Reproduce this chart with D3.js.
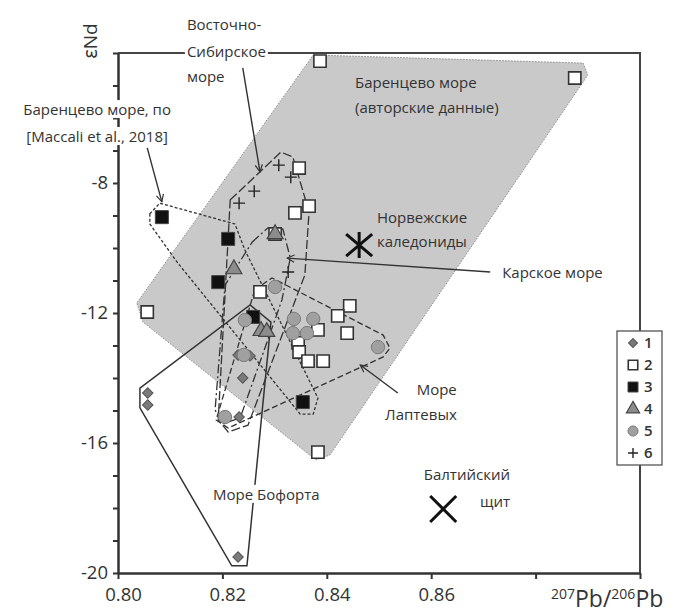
<!DOCTYPE html>
<html>
<head>
<meta charset="utf-8">
<script src="https://cdn.jsdelivr.net/npm/d3@7"></script>
<style>
  body { margin: 0; background: #fff; }
  text { font-family: "Open Sans", "Noto Sans", sans-serif; fill: #333; }
</style>
</head>
<body>
<div id="chart"></div>
<script>
// axis ticks
var xTicks = [0.80, 0.82, 0.84, 0.86, 0.88, 0.90];
var xTickLabels = ["0.80", "0.82", "0.84", "0.86", "", ""];
var yTicks = d3.range(-20, -3, 1);
var yLabelTicks = [-20, -16, -12, -8];

// samples: [207Pb/206Pb, eNd]
var group1 = [[0.8057, -14.46], [0.8057, -14.83], [0.8230, -19.51], [0.8239, -14.00],
  [0.8230, -13.29], [0.8253, -13.32], [0.8232, -15.20]];
var group2 = [[0.8387, -4.25], [0.8875, -4.77], [0.8347, -7.54], [0.8366, -8.71], [0.8339, -8.92],
  [0.8301, -9.57], [0.8272, -11.35], [0.8056, -11.97], [0.8444, -11.78], [0.8421, -12.09],
  [0.8439, -12.62], [0.8383, -12.52], [0.8345, -12.92], [0.8347, -13.20], [0.8364, -13.48],
  [0.8393, -13.48], [0.8383, -16.28]];
var group3 = [[0.8084, -9.05], [0.8211, -9.72], [0.8192, -11.05], [0.8259, -12.12], [0.8354, -14.74]];
var group4 = [[0.8301, -9.57], [0.8222, -10.65], [0.8274, -12.55], [0.8285, -12.58]];
var group5 = [[0.8301, -11.20], [0.8243, -12.22], [0.8337, -12.18], [0.8374, -12.18], [0.8335, -12.62],
  [0.8362, -12.62], [0.8498, -13.05], [0.8205, -15.20], [0.8241, -13.29]];
var group6 = [[0.8308, -7.45], [0.8331, -7.82], [0.8261, -8.25], [0.8232, -8.62], [0.8326, -10.74]];

var norwayCaledonides = [0.8462, -9.91];
var balticShield = [0.8623, -18.03];

// outlines of the sea fields
var barentsAuthors = [[0.8374, -4.06], [0.8891, -4.31], [0.8900, -4.68], [0.8406, -16.37],
  [0.8379, -16.52], [0.8048, -12.28], [0.8036, -11.69]];
var barentsMaccali = [[0.8061, -8.95], [0.8080, -8.62], [0.8224, -9.26], [0.8243, -10.06],
  [0.8383, -14.62], [0.8374, -15.11], [0.8349, -15.11], [0.8113, -10.43], [0.8061, -9.26]];
var eastSiberian = [[0.8215, -8.52], [0.8312, -7.05], [0.8335, -7.20], [0.8366, -8.89],
  [0.8358, -10.83], [0.8249, -15.45], [0.8211, -15.66], [0.8192, -15.29]];
var kara = [[0.8257, -9.82], [0.8287, -9.38], [0.8316, -9.42], [0.8330, -10.31], [0.8314, -11.60],
  [0.8234, -15.23], [0.8199, -15.42], [0.8186, -14.98], [0.8205, -11.14]];
var laptev = [[0.8262, -11.29], [0.8295, -10.92], [0.8508, -12.68], [0.8521, -13.08],
  [0.8508, -13.35], [0.8211, -15.54], [0.8188, -15.29]];
var beaufort = [[0.8042, -14.31], [0.8042, -14.92], [0.8218, -19.78], [0.8247, -19.78],
  [0.8293, -12.28], [0.8253, -11.75]];

// annotation arrows [from, to]
var arrows = [
  [[0.8239, -4.46], [0.8272, -7.66]],
  [[0.8056, -6.92], [0.8084, -8.58]],
  [[0.8713, -10.74], [0.8324, -10.31]],
  [[0.8536, -14.46], [0.8464, -13.60]]
];

var legendLabels = ["1", "2", "3", "4", "5", "6"];

var svgWidth = 676;
var svgHeight = 615;

var svg = d3.select("#chart")
  .append("svg")
  .attr("width", svgWidth)
  .attr("height", svgHeight);

var x = d3.scaleLinear().domain([0.80, 0.90]).range([118, 640]);
var y = d3.scaleLinear().domain([-20, -4]).range([573, 53]);

var line = d3.line()
  .x(d => x(d[0]))
  .y(d => y(d[1]))
  .curve(d3.curveLinearClosed);

svg.append("defs").append("marker")
  .attr("id", "arr")
  .attr("viewBox", "0 0 10 10")
  .attr("refX", 9).attr("refY", 5)
  .attr("markerWidth", 9).attr("markerHeight", 9)
  .attr("markerUnits", "userSpaceOnUse")
  .attr("orient", "auto")
  .append("path")
  .attr("d", "M1,1 L9,5 L1,9")
  .attr("fill", "none")
  .attr("stroke", "#333")
  .attr("stroke-width", 1.3);

// gray field: Barents sea (author data)
svg.append("path")
  .attr("d", line(barentsAuthors))
  .attr("fill", "#c9c9c9")
  .attr("stroke", "#8a8a8a")
  .attr("stroke-width", 1)
  .attr("stroke-dasharray", "1.5,1.5");

// frame: top and right
svg.append("path")
  .attr("d", `M${x(0.80)},${y(-4)} H${x(0.90)} V${y(-20)}`)
  .attr("fill", "none")
  .attr("stroke", "#444")
  .attr("stroke-width", 2);

// outlines
var outlines = [
  { pts: barentsMaccali, dash: "3,2" },
  { pts: eastSiberian, dash: "9,3" },
  { pts: kara, dash: "9,3,2,3" },
  { pts: laptev, dash: "6,3" },
  { pts: beaufort, dash: null }
];
outlines.forEach(function(o) {
  svg.append("path")
    .attr("d", line(o.pts))
    .attr("fill", "none")
    .attr("stroke", "#333")
    .attr("stroke-width", o.dash ? 1.3 : 1.5)
    .attr("stroke-dasharray", o.dash);
});

// axes
var bottomAxis = d3.axisBottom(x)
  .tickValues(xTicks)
  .tickFormat((d, i) => xTickLabels[i])
  .tickSize(6)
  .tickSizeOuter(0);
var leftAxis = d3.axisLeft(y)
  .tickValues(yTicks)
  .tickFormat(d => yLabelTicks.includes(d) ? String(d) : "")
  .tickSize(5)
  .tickSizeOuter(0);

var gx = svg.append("g").attr("transform", `translate(0,${y(-20)})`).call(bottomAxis);
var gy = svg.append("g").attr("transform", `translate(${x(0.80)},0)`).call(leftAxis);
[gx, gy].forEach(function(g) {
  g.select(".domain").attr("stroke", "#333").attr("stroke-width", 2.5);
  g.selectAll(".tick line").attr("stroke", "#333").attr("stroke-width", 2);
  g.selectAll(".tick text")
    .attr("fill", "#333")
    .style("font-size", "18.5px")
    .style("font-family", "'Open Sans', sans-serif");
});
gx.selectAll(".tick text").attr("dy", "1.05em").attr("dx", 5);
gy.selectAll(".tick text").attr("dx", -2);

// sample markers
var sym = function(type, size) { return d3.symbol().type(type).size(size)(); };

function drawPoints(data, shape, style, rot) {
  var sel = svg.append("g").selectAll("path")
    .data(data)
    .enter()
    .append("path")
    .attr("transform", d => `translate(${x(d[0])},${y(d[1])})` + (rot ? ` rotate(${rot})` : ""))
    .attr("d", shape);
  Object.keys(style).forEach(k => sel.attr(k, style[k]));
}

var plusPath = "M-6,0H6M0,-6V6";
var styles = [
  { shape: sym(d3.symbolSquare, 55), rot: 45, style: { fill: "#7a7a7a", stroke: "#555", "stroke-width": 1 } },
  { shape: sym(d3.symbolSquare, 150), style: { fill: "#fff", stroke: "#333", "stroke-width": 1.6 } },
  { shape: sym(d3.symbolSquare, 170), style: { fill: "#111", stroke: "#444", "stroke-width": 1 } },
  { shape: sym(d3.symbolTriangle, 110), style: { fill: "#8c8c8c", stroke: "#444", "stroke-width": 1.2 } },
  { shape: sym(d3.symbolCircle, 140), style: { fill: "#a0a0a0", stroke: "#7a7a7a", "stroke-width": 1 } },
  { shape: plusPath, style: { fill: "none", stroke: "#222", "stroke-width": 1.4 } }
];

drawPoints(group1, styles[0].shape, styles[0].style, styles[0].rot);
drawPoints(group3, styles[2].shape, styles[2].style);
drawPoints(group2, styles[1].shape, styles[1].style);
drawPoints(group4, styles[3].shape, styles[3].style);
drawPoints(group5, styles[4].shape, styles[4].style);
drawPoints(group6, styles[5].shape, styles[5].style);

// Norwegian Caledonides (Ж) and Baltic shield (X)
svg.append("path")
  .attr("transform", `translate(${x(norwayCaledonides[0])},${y(norwayCaledonides[1])})`)
  .attr("d", "M0,-13V13M-13,-11L13,11M-13,11L13,-11")
  .attr("stroke", "#111").attr("stroke-width", 3).attr("fill", "none");
svg.append("path")
  .attr("transform", `translate(${x(balticShield[0])},${y(balticShield[1])})`)
  .attr("d", "M-13,-13L13,13M-13,13L13,-13")
  .attr("stroke", "#111").attr("stroke-width", 3).attr("fill", "none");

// arrows
svg.append("g").selectAll("line")
  .data(arrows)
  .enter()
  .append("line")
  .attr("x1", d => x(d[0][0])).attr("y1", d => y(d[0][1]))
  .attr("x2", d => x(d[1][0])).attr("y2", d => y(d[1][1]))
  .attr("stroke", "#333")
  .attr("stroke-width", 1.4)
  .attr("marker-end", "url(#arr)");

// labels: [x, eNd, text, anchor, whiteBackground]
var labels = [
  [0.8132, -3.29, "Восточно-", "start", true],
  [0.8132, -4.12, "Сибирское", "start", true],
  [0.8132, -4.89, "море", "start", true],
  [0.7960, -5.91, "Баренцево море, по", "middle", true],
  [0.7960, -6.74, "[Maccali et al., 2018]", "middle", true],
  [0.8454, -5.08, "Баренцево море", "start", false],
  [0.8454, -5.85, "(авторские данные)", "start", false],
  [0.8496, -9.23, "Норвежские", "start", false],
  [0.8496, -9.97, "каледониды", "start", false],
  [0.8736, -10.92, "Карское море", "start", true],
  [0.8649, -14.52, "Море", "end", true],
  [0.8649, -15.29, "Лаптевых", "end", true],
  [0.8182, -17.75, "Море Бофорта", "start", true],
  [0.8751, -17.14, "Балтийский", "end", true],
  [0.8751, -17.97, "щит", "end", true]
];

var lg = svg.append("g");
labels.forEach(function(l) {
  var t = lg.append("text")
    .attr("x", x(l[0]))
    .attr("y", y(l[1]))
    .attr("text-anchor", l[3])
    .style("font-size", "15px")
    .text(l[2]);
  if (l[4]) {
    var b = t.node().getBBox();
    lg.insert("rect", "text")
      .attr("x", b.x - 2).attr("y", b.y + 1)
      .attr("width", b.width + 4).attr("height", b.height - 2)
      .attr("fill", "#fff");
  }
});

// axis titles
svg.append("text")
  .attr("transform", `translate(97,${y(-4) - 12}) rotate(-90)`)
  .attr("text-anchor", "middle")
  .style("font-size", "19px")
  .text("ɛNd");

var xt = svg.append("text")
  .attr("x", 551)
  .attr("y", 607)
  .style("font-size", "23px");
xt.append("tspan").attr("dy", -8).style("font-size", "14px").text("207");
xt.append("tspan").attr("dy", 8).text("Pb/");
xt.append("tspan").attr("dy", -8).style("font-size", "14px").text("206");
xt.append("tspan").attr("dy", 8).text("Pb");

// legend
var legend = svg.append("g").attr("transform", "translate(617,331)");
legend.append("rect")
  .attr("width", 45).attr("height", 134)
  .attr("fill", "#fff")
  .attr("stroke", "#555")
  .attr("stroke-width", 1.3);

var legendShapes = [
  sym(d3.symbolSquare, 40), sym(d3.symbolSquare, 90), sym(d3.symbolSquare, 100),
  sym(d3.symbolTriangle, 75), sym(d3.symbolCircle, 80), "M-5,0H5M0,-5V5"
];
legendLabels.forEach(function(lab, i) {
  var row = legend.append("g").attr("transform", `translate(0,${12 + i * 22})`);
  var p = row.append("path")
    .attr("transform", "translate(16,0)" + (i === 0 ? " rotate(45)" : ""))
    .attr("d", legendShapes[i]);
  Object.keys(styles[i].style).forEach(k => p.attr(k, styles[i].style[k]));
  row.append("text")
    .attr("x", 27).attr("y", 5)
    .style("font-size", "15px")
    .style("font-weight", "600")
    .text(lab);
});
</script>
</body>
</html>
